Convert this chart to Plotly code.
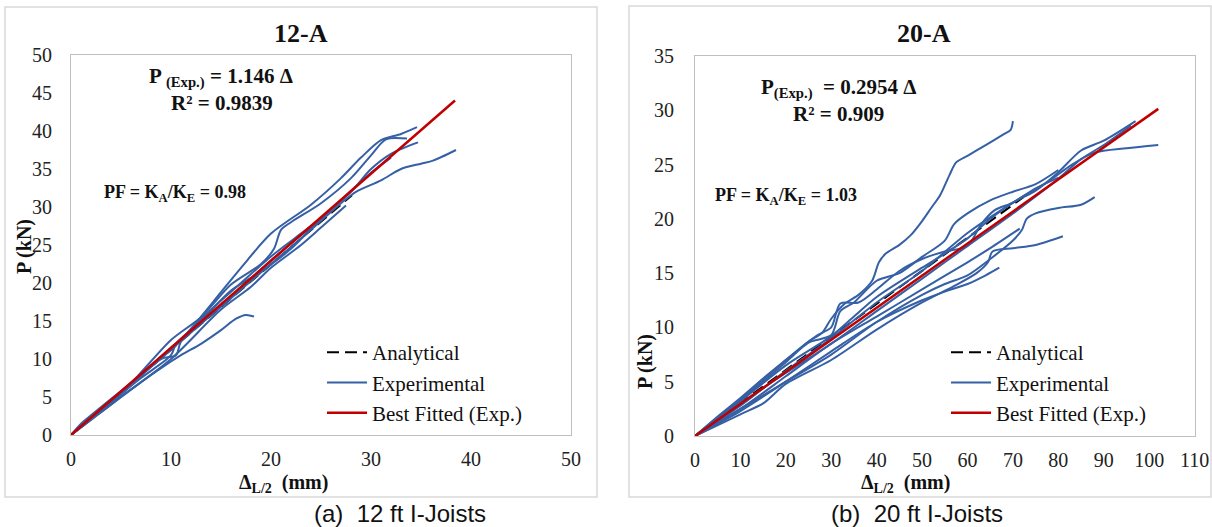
import plotly.graph_objects as go

W, H = 1212, 527

# ---------------- data: 12-A ----------------
fit12_slope = 1.146
fit12_x = [0, 38.4]
ana12_x = [0, 28.1]
ana12_slope = 1.123

exp12 = [
    ([0, 1, 3, 6, 9, 11, 13, 15, 16.5, 17.5, 18.3],
     [0, 1.2, 3.0, 6.0, 8.8, 10.5, 12.0, 13.8, 15.3, 15.8, 15.6]),
    ([0, 1, 2, 5, 8, 10, 12, 15, 17, 20, 24, 27, 29, 31, 33, 34.6],
     [0, 1.5, 2.6, 5.8, 9.0, 11.2, 14.0, 18.8, 22.0, 26.5, 30.3, 33.8, 36.5, 38.8, 39.6, 40.5]),
    ([0, 3, 6, 10, 13, 16, 19, 20.3, 21, 22, 25, 28, 30, 31.5, 33.6],
     [0, 3.2, 6.8, 12.5, 15.5, 19.8, 22.5, 24.5, 27.0, 28.0, 30.5, 33.8, 36.8, 38.9, 39.0]),
    ([0, 3, 7, 10, 10.5, 13, 16, 19, 22, 25, 28, 30, 32, 34.7],
     [0, 3.3, 7.5, 10.5, 12.0, 15.0, 19.0, 21.5, 24.5, 28.5, 32.0, 35.0, 37.0, 38.5]),
    ([0, 4, 8, 12, 16, 20, 24, 27, 28.5, 31, 33, 35, 36.2, 38.5],
     [0, 4.4, 9.0, 13.5, 18.0, 22.5, 27.0, 30.5, 32.0, 33.5, 35.0, 35.7, 36.1, 37.5]),
    ([0, 5, 10, 15, 18, 20, 23, 25, 27.5],
     [0, 5.0, 10.0, 16.5, 19.5, 22.0, 25.0, 27.3, 30.2]),
    ([0, 5, 10, 15, 20, 25, 30, 32],
     [0, 5.5, 11.5, 17.0, 23.0, 28.5, 34.5, 36.5]),
    ([0, 2, 5, 9, 10.5, 11, 14, 17, 20, 23, 26],
     [0, 2.0, 5.3, 10.0, 10.5, 12.3, 16.5, 20.0, 23.5, 26.5, 29.5]),
]

# ---------------- data: 20-A ----------------
fit20_slope = 0.2954
fit20_x = [0, 102]
ana20_x = [0, 72.3]
ana20_slope = 0.3043

exp20 = [
    ([0, 5, 10, 15, 20, 25, 28, 30, 33, 36, 39, 40.5, 42, 45, 47.5, 50, 52, 54, 56, 57.5, 60, 64, 68, 69.5, 70],
     [0, 1.8, 3.5, 5.3, 7.0, 8.7, 9.5, 10.8, 12.2, 13.0, 14.3, 16.0, 16.8, 17.6, 18.5, 19.8, 21.0, 22.2, 24.0, 25.2, 25.8, 26.8, 27.8, 28.2, 29.0]),
    ([0, 10, 20, 30, 35, 40, 50, 55, 60, 65, 70, 75, 80, 85, 90, 97],
     [0, 3.2, 6.5, 9.2, 11.0, 12.8, 15.5, 16.8, 18.2, 20.0, 21.5, 22.6, 24.3, 26.3, 27.2, 29.0]),
    ([0, 10, 20, 30, 40, 50, 60, 70, 80, 85, 90, 96],
     [0, 3.0, 5.8, 8.5, 11.5, 14.5, 17.5, 20.5, 23.7, 25.5, 26.8, 28.6]),
    ([0, 10, 20, 30, 40, 50, 60, 70, 78, 83, 88, 95, 102],
     [0, 2.8, 6.0, 9.0, 12.3, 15.2, 18.7, 21.5, 23.5, 25.0, 26.1, 26.5, 26.8]),
    ([0, 10, 20, 30, 40, 50, 55, 60, 65, 70, 72, 73, 75, 80, 85, 88],
     [0, 2.5, 5.0, 7.5, 10.5, 13.0, 14.0, 14.8, 16.3, 18.0, 19.0, 20.0, 20.5, 21.0, 21.3, 22.0]),
    ([0, 10, 15, 20, 30, 40, 50, 57, 62, 64.5, 65.5, 70, 75, 81],
     [0, 2.0, 3.0, 4.8, 7.0, 9.8, 12.3, 13.8, 15.0, 16.0, 17.0, 17.3, 17.6, 18.4]),
    ([0, 10, 20, 30, 40, 50, 55, 60, 64, 67],
     [0, 2.3, 5.0, 7.8, 10.5, 12.5, 13.3, 14.0, 14.8, 15.5]),
    ([0, 10, 20, 30, 40, 50, 60, 65, 71.5],
     [0, 2.5, 5.5, 8.5, 11.0, 13.5, 16.0, 17.3, 19.1]),
    ([0, 10, 20, 25, 30, 32, 35, 40, 45, 50, 55, 57, 60, 65, 70, 75, 80],
     [0, 3.3, 6.8, 8.6, 9.3, 11.5, 12.3, 14.3, 15.0, 16.5, 18.0, 19.5, 20.5, 21.7, 22.5, 23.2, 24.5]),
    ([0, 10, 20, 27, 30, 32, 36, 40, 45, 50, 55, 60, 63, 66, 70, 75, 80],
     [0, 3.4, 7.0, 9.3, 10.0, 12.2, 12.3, 13.5, 15.2, 16.3, 17.0, 17.5, 19.5, 20.8, 21.5, 22.8, 23.8]),
]

BLUE = "#3560a5"
RED = "#c00000"
SERIF = "Liberation Serif"
SANS = "Liberation Sans"

fig = go.Figure()


def add_panel(xa, ya, legend, ana_x, ana_k, exps, fit_x, fit_k):
    fig.add_trace(go.Scatter(
        x=ana_x, y=[v * ana_k for v in ana_x], mode="lines", name="Analytical",
        line=dict(color="black", width=2, dash="12px,6px"), xaxis=xa, yaxis=ya,
        legend=legend))
    for i, (xs, ys) in enumerate(exps):
        fig.add_trace(go.Scatter(
            x=xs, y=ys, mode="lines", name="Experimental",
            line=dict(color=BLUE, width=2, shape="spline", smoothing=0.8),
            xaxis=xa, yaxis=ya, legend=legend, showlegend=(i == 0),
            legendgroup=legend + "exp"))
    fig.add_trace(go.Scatter(
        x=fit_x, y=[v * fit_k for v in fit_x], mode="lines", name="Best Fitted (Exp.)",
        line=dict(color=RED, width=2.5), xaxis=xa, yaxis=ya, legend=legend))


add_panel("x", "y", "legend", ana12_x, ana12_slope, exp12, fit12_x, fit12_slope)
add_panel("x2", "y2", "legend2", ana20_x, ana20_slope, exp20, fit20_x, fit20_slope)


def px(x):
    return x / W


def py(y):
    return 1 - y / H


axis_common = dict(showgrid=False, zeroline=False, showline=True, mirror=True,
                   linecolor="#bfbfbf", linewidth=1, ticks="", automargin=False,
                   tickfont=dict(family=SERIF, size=20, color="#222"))

legend_common = dict(font=dict(family=SERIF, size=21, color="#111"),
                     bgcolor="rgba(0,0,0,0)", xanchor="left", yanchor="top",
                     itemwidth=40, tracegroupgap=0)

fig.update_layout(
    width=W, height=H, margin=dict(l=0, r=0, t=0, b=0, autoexpand=False),
    paper_bgcolor="white", plot_bgcolor="white",
    xaxis=dict(domain=[px(71), px(571)], range=[0, 50], dtick=10, anchor="y",
               ticklabelstandoff=6, **axis_common),
    yaxis=dict(domain=[py(435), py(55)], range=[0, 50], dtick=5, anchor="x",
               ticklabelstandoff=14, **axis_common),
    xaxis2=dict(domain=[px(695), px(1194.6)], range=[0, 110], dtick=10, anchor="y2",
                ticklabelstandoff=6, **axis_common),
    yaxis2=dict(domain=[py(436), py(56)], range=[0, 35], dtick=5, anchor="x2",
                ticklabelstandoff=16, **axis_common),
    legend=dict(x=px(322), y=py(332), **legend_common),
    legend2=dict(x=px(946), y=py(332), **legend_common),
    showlegend=True,
)

shapes = [
    dict(type="rect", xref="paper", yref="paper", x0=px(5), x1=px(597), y0=py(497), y1=py(7),
         line=dict(color="#d9d9d9", width=1.5)),
    dict(type="rect", xref="paper", yref="paper", x0=px(629), x1=px(1211), y0=py(497), y1=py(6),
         line=dict(color="#d9d9d9", width=1.5)),
]
fig.update_layout(shapes=shapes)

ann = []


def text(x, y, t, size, family=SERIF, angle=0, color="#111", xanchor="center"):
    ann.append(dict(x=px(x), y=py(y), xref="paper", yref="paper", text=t, showarrow=False,
                    font=dict(family=family, size=size, color=color), textangle=angle,
                    xanchor=xanchor, yanchor="middle"))


text(301, 33, "<b>12-A</b>", 26)
text(924, 33, "<b>20-A</b>", 26)
text(221, 78, "<b>P <sub>(Exp.)</sub> = 1.146 Δ</b>", 21)
text(222, 103, "<b>R² = 0.9839</b>", 21)
text(175, 193, "<b>PF = K<sub>A</sub>/K<sub>E</sub> = 0.98</b>", 18)
text(838, 88, "<b>P<sub>(Exp.)</sub>  = 0.2954 Δ</b>", 21)
text(838, 114, "<b>R² = 0.909</b>", 21)
text(786, 197, "<b>PF = K<sub>A</sub>/K<sub>E</sub> = 1.03</b>", 18)
text(24, 247, "<b>P (kN)</b>", 20, angle=-90)
text(645, 362, "<b>P (kN)</b>", 20, angle=-90)
text(283, 483, "<b>Δ<sub>L/2</sub>  (mm)</b>", 20)
text(905, 483, "<b>Δ<sub>L/2</sub>  (mm)</b>", 20)
text(400, 513, "(a)  12 ft I-Joists", 24, family=SANS)
text(917, 513, "(b)  20 ft I-Joists", 24, family=SANS)

fig.update_layout(annotations=ann)

fig.write_html("out.html")
